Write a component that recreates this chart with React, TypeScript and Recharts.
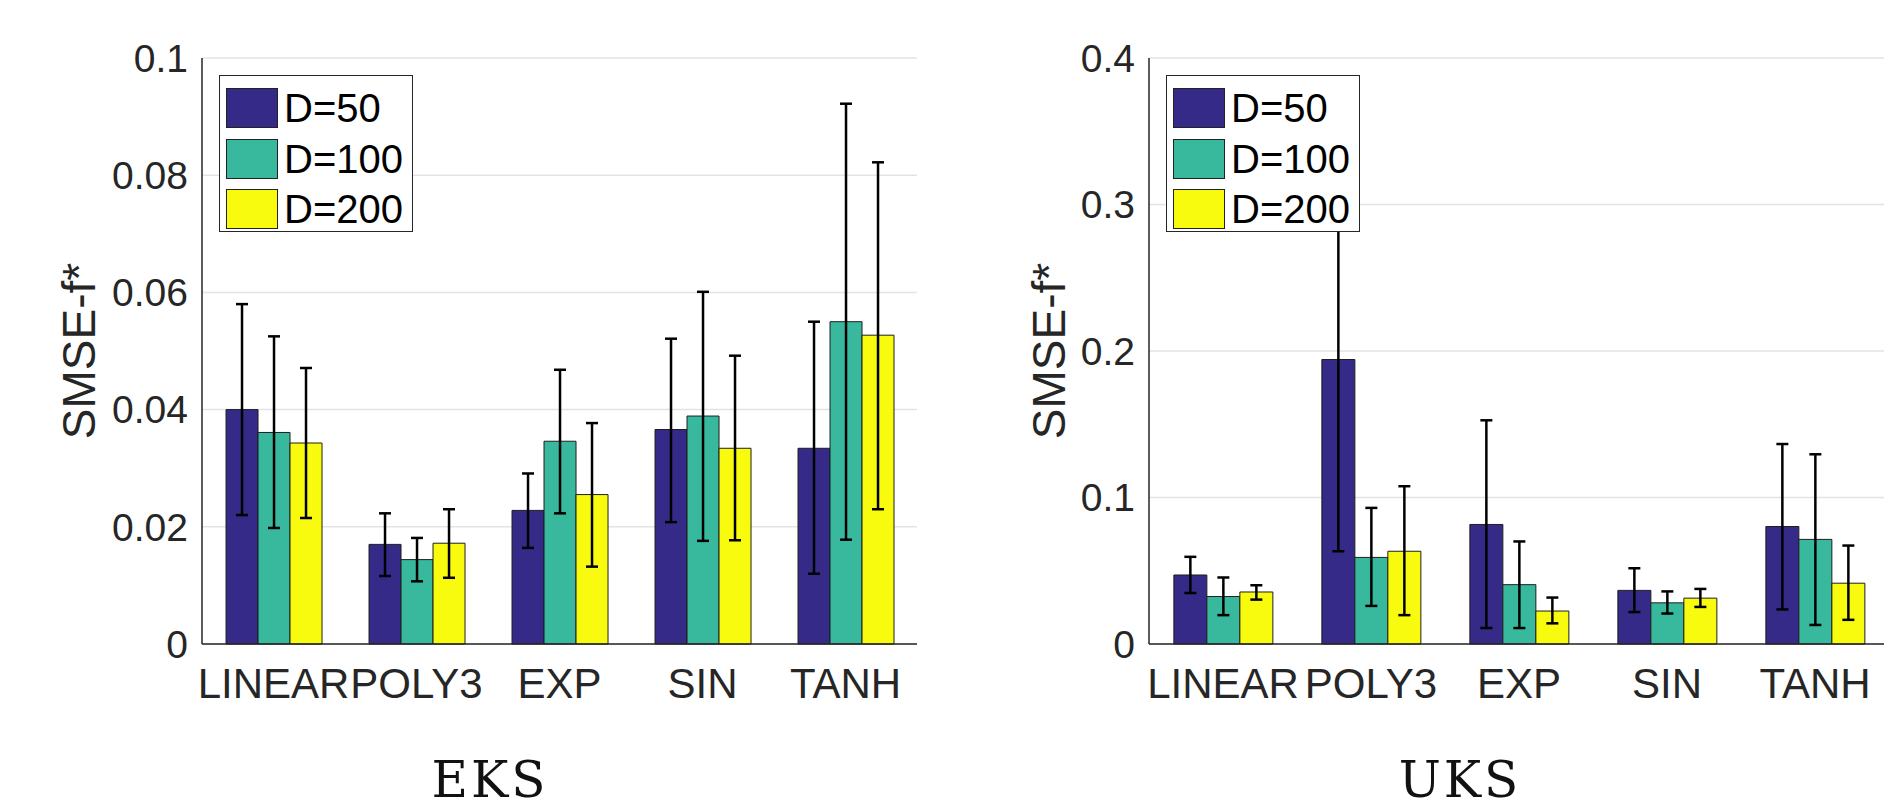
import React from 'react';
import {
  BarChart,
  Bar,
  XAxis,
  YAxis,
  CartesianGrid,
  ErrorBar,
  Legend,
} from 'recharts';

// categories and series
const categories = ['LINEAR', 'POLY3', 'EXP', 'SIN', 'TANH'];
const seriesNames = ['D=50', 'D=100', 'D=200'];
const seriesColors = ['#352a87', '#38b99e', '#f9fb0e'];

// EKS panel: means, lower and upper error bounds
const eksD50 = [0.04, 0.017, 0.0228, 0.0366, 0.0334];
const eksD50Lo = [0.022, 0.0116, 0.0164, 0.0208, 0.012];
const eksD50Hi = [0.058, 0.0223, 0.0291, 0.0521, 0.055];
const eksD100 = [0.0361, 0.0144, 0.0346, 0.0389, 0.055];
const eksD100Lo = [0.0198, 0.0107, 0.0223, 0.0176, 0.0178];
const eksD100Hi = [0.0525, 0.0181, 0.0468, 0.0601, 0.0922];
const eksD200 = [0.0343, 0.0172, 0.0255, 0.0334, 0.0527];
const eksD200Lo = [0.0215, 0.0113, 0.0132, 0.0177, 0.023];
const eksD200Hi = [0.0471, 0.023, 0.0377, 0.0492, 0.0822];

// UKS panel
const uksD50 = [0.0471, 0.1942, 0.0816, 0.0366, 0.0802];
const uksD50Lo = [0.0348, 0.0633, 0.0109, 0.0218, 0.0236];
const uksD50Hi = [0.0595, 0.325, 0.1527, 0.0517, 0.1365];
const uksD100 = [0.0324, 0.0591, 0.0405, 0.0281, 0.0714];
const uksD100Lo = [0.0197, 0.026, 0.0109, 0.0208, 0.013];
const uksD100Hi = [0.0454, 0.0929, 0.07, 0.0359, 0.1295];
const uksD200 = [0.0355, 0.0633, 0.0225, 0.0313, 0.0415];
const uksD200Lo = [0.0303, 0.0197, 0.0141, 0.0253, 0.0165];
const uksD200Hi = [0.0401, 0.1077, 0.0317, 0.0376, 0.0672];

// y ticks
const eksTicks = [0, 0.02, 0.04, 0.06, 0.08, 0.1];
const uksTicks = [0, 0.1, 0.2, 0.3, 0.4];

const AXIS = '#262626';

function buildRows(vals: number[][], los: number[][], his: number[][]) {
  return categories.map((cat, i) => {
    const row: any = { name: cat };
    vals.forEach((v, s) => {
      row['s' + s] = v[i];
      row['e' + s] = [v[i] - los[s][i], his[s][i] - v[i]];
    });
    return row;
  });
}

const eksData = buildRows(
  [eksD50, eksD100, eksD200],
  [eksD50Lo, eksD100Lo, eksD200Lo],
  [eksD50Hi, eksD100Hi, eksD200Hi]
);
const uksData = buildRows(
  [uksD50, uksD100, uksD200],
  [uksD50Lo, uksD100Lo, uksD200Lo],
  [uksD50Hi, uksD100Hi, uksD200Hi]
);

const LegendBox = ({ payload }: any) => {
  // keep series order, not the legend's default sort
  const items = [...(payload || [])].sort(
    (a: any, b: any) => seriesNames.indexOf(a.value) - seriesNames.indexOf(b.value)
  );
  return (
    <div
      style={{
        width: 194,
        height: 157,
        boxSizing: 'border-box',
        border: `1.5px solid ${AXIS}`,
        background: '#fff',
        paddingTop: 7,
        paddingLeft: 6,
      }}
    >
      {items.map((entry: any, i: number) => (
        <div
          key={i}
          style={{ display: 'flex', alignItems: 'center', height: 50.5 }}
        >
          <div
            style={{
              width: 52,
              height: 40,
              boxSizing: 'border-box',
              background: entry.color,
              border: '1px solid #222',
            }}
          />
          <span
            style={{
              marginLeft: 6,
              fontSize: 40,
              lineHeight: '40px',
              color: '#000',
            }}
          >
            {entry.value}
          </span>
        </div>
      ))}
    </div>
  );
};

interface PanelProps {
  data: any[];
  ticks: number[];
  max: number;
  title: string;
  titleX: number;
  ylabelX: number;
  width: number;
  marginLeft: number;
  marginRight: number;
  legendLeft: number;
}

function Panel({
  data,
  ticks,
  max,
  title,
  titleX,
  ylabelX,
  width,
  marginLeft,
  marginRight,
  legendLeft,
}: PanelProps) {
  return (
    <BarChart
      width={width}
      height={809}
      data={data}
      margin={{ top: 58, right: marginRight, bottom: 105, left: marginLeft }}
      barCategoryGap='16.8%'
      barGap={0}
    >
      <CartesianGrid
        vertical={false}
        stroke='#e3e3e3'
        strokeWidth={1.5}
      />
      <XAxis
        dataKey='name'
        height={60}
        tickLine={false}
        tickSize={0}
        tickMargin={24}
        axisLine={{ stroke: AXIS, strokeWidth: 1.5 }}
        tick={{ fontSize: 42, fill: AXIS }}
        interval={0}
        label={{
          content: () => (
            <text
              x={titleX}
              y={797}
              textAnchor='middle'
              fontFamily='"DejaVu Serif", "Liberation Serif", serif'
              fontSize={50}
              letterSpacing={3}
              fill='#111'
            >
              {title}
            </text>
          ),
        }}
      />
      <YAxis
        width={120}
        domain={[0, max]}
        ticks={ticks}
        tickFormatter={v => String(v)}
        tickLine={false}
        tickSize={0}
        tickMargin={14}
        axisLine={{ stroke: AXIS, strokeWidth: 1.5 }}
        tick={{ fontSize: 39, fill: AXIS }}
        label={{
          content: () => (
            <text
              transform={`translate(${ylabelX},351) rotate(-90)`}
              textAnchor='middle'
              fontSize={46}
              fill={AXIS}
            >
              SMSE-f*
            </text>
          ),
        }}
      />
      <Legend
        layout='horizontal'
        verticalAlign='middle'
        align='center'
        content={<LegendBox />}
        wrapperStyle={{ left: legendLeft, top: 75, width: 194, height: 157 }}
      />
      {seriesNames.map((name, s) => (
        <Bar
          key={name}
          dataKey={'s' + s}
          name={name}
          fill={seriesColors[s]}
          stroke='#1e1e1e'
          strokeWidth={1}
          isAnimationActive={false}
        >
          <ErrorBar
            dataKey={'e' + s}
            width={6}
            stroke='#000'
            strokeWidth={2.5}
            isAnimationActive={false}
          />
        </Bar>
      ))}
    </BarChart>
  );
}

export default function App() {
  return (
    <div
      style={{
        position: 'fixed',
        left: 0,
        top: 0,
        width: 1884,
        height: 809,
        overflow: 'hidden',
        background: '#fff',
        fontFamily: '"Liberation Sans", Arial, sans-serif',
      }}
    >
      <div style={{ position: 'absolute', left: 0, top: 0, width: 942 }}>
        <Panel
          data={eksData}
          ticks={eksTicks}
          max={0.1}
          title='EKS'
          titleX={490}
          ylabelX={95}
          width={942}
          marginLeft={82}
          marginRight={25}
          legendLeft={219}
        />
      </div>
      <div style={{ position: 'absolute', left: 942, top: 0, width: 1000 }}>
        <Panel
          data={uksData}
          ticks={uksTicks}
          max={0.4}
          title='UKS'
          titleX={518}
          ylabelX={123}
          width={1000}
          marginLeft={87}
          marginRight={53}
          legendLeft={224}
        />
      </div>
    </div>
  );
}
